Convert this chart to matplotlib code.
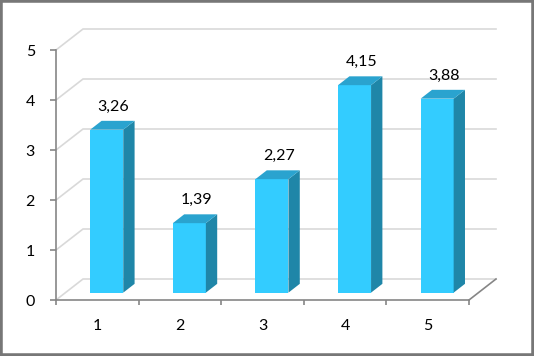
import numpy as np
import matplotlib.pyplot as plt
from matplotlib.patches import Polygon, Rectangle
from matplotlib.ticker import FixedLocator

plt.rcParams['font.family'] = ['Lato', 'DejaVu Sans']

categories = ['1', '2', '3', '4', '5']
values = [3.26, 1.39, 2.27, 4.15, 3.88]
value_labels = ['3,26', '1,39', '2,27', '4,15', '3,88']
yticks = [0, 1, 2, 3, 4, 5]

W, H = 534, 356
fig = plt.figure(figsize=(W / 100, H / 100), dpi=100)
ax = fig.add_axes([56 / W, (H - 300) / H, (469 - 56) / W, 250 / H])
ax.set_xlim(0.5, 5.5)
ax.set_ylim(0, 5)

# pixels per data unit, used to turn the 3d depth into data offsets
pxx = (469 - 56) / 5.0
pxy = 250 / 5.0
dep_x = 27 / pxx
dep_y = 21 / pxy

# back wall gridlines and floor
for v in yticks:
    ax.plot([0.5, 0.5 + dep_x, 5.5 + dep_x], [v, v + dep_y, v + dep_y],
            color='#d9d9d9', lw=1.2, clip_on=False, zorder=1)
ax.plot([5.5, 5.5 + dep_x], [0, dep_y], color='#868686', lw=1.2, clip_on=False, zorder=1)

# bars
bw = 33 / pxx
f0, f1 = 0.35, 0.42
front_c = '#33ccff'
side_c = '#1f86a8'
top_c = '#2aa3cf'
for i, v in enumerate(values):
    c = i + 1
    x0 = c + f0 * dep_x - bw / 2
    x1 = x0 + bw
    y0 = f0 * dep_y
    bdx = f1 * dep_x
    bdy = f1 * dep_y
    ax.add_patch(Rectangle((x0, y0), bw, v, fc=front_c, ec='none', zorder=3, clip_on=False))
    ax.add_patch(Polygon([(x1, y0), (x1 + bdx, y0 + bdy), (x1 + bdx, y0 + bdy + v), (x1, y0 + v)],
                         closed=True, fc=side_c, ec='none', zorder=3, clip_on=False))
    ax.add_patch(Polygon([(x0, y0 + v), (x1, y0 + v), (x1 + bdx, y0 + v + bdy), (x0 + bdx, y0 + v + bdy)],
                         closed=True, fc=top_c, ec='none', zorder=3, clip_on=False))
    ax.text(x0 + (bw + bdx) / 2 + 1 / pxx, y0 + v + bdy + 14 / pxy, value_labels[i],
            ha='center', va='center', fontsize=11.5, color='black')

# axes
for s in ['top', 'right']:
    ax.spines[s].set_visible(False)
for s in ['left', 'bottom']:
    ax.spines[s].set_color('#868686')
    ax.spines[s].set_linewidth(1.2)
ax.set_facecolor('none')
ax.set_yticks(yticks)
ax.set_yticklabels([str(t) for t in yticks])
ax.tick_params(axis='y', length=6 * 0.72, width=1.2, color='#868686', pad=15 * 0.72, labelsize=11.5)
ax.set_xticks(range(1, 6))
ax.set_xticklabels(categories)
ax.xaxis.set_minor_locator(FixedLocator(np.arange(0.5, 6, 1)))
ax.tick_params(axis='x', which='major', length=0, pad=19 * 0.72, labelsize=11.5)
ax.tick_params(axis='x', which='minor', length=5 * 0.72, width=1.2, color='#868686')

# outer frame
fig.patches.append(Rectangle((0, 0), 1, 1, transform=fig.transFigure, fill=False,
                             ec='#777777', lw=4))

fig.savefig('out.png', dpi=100)
